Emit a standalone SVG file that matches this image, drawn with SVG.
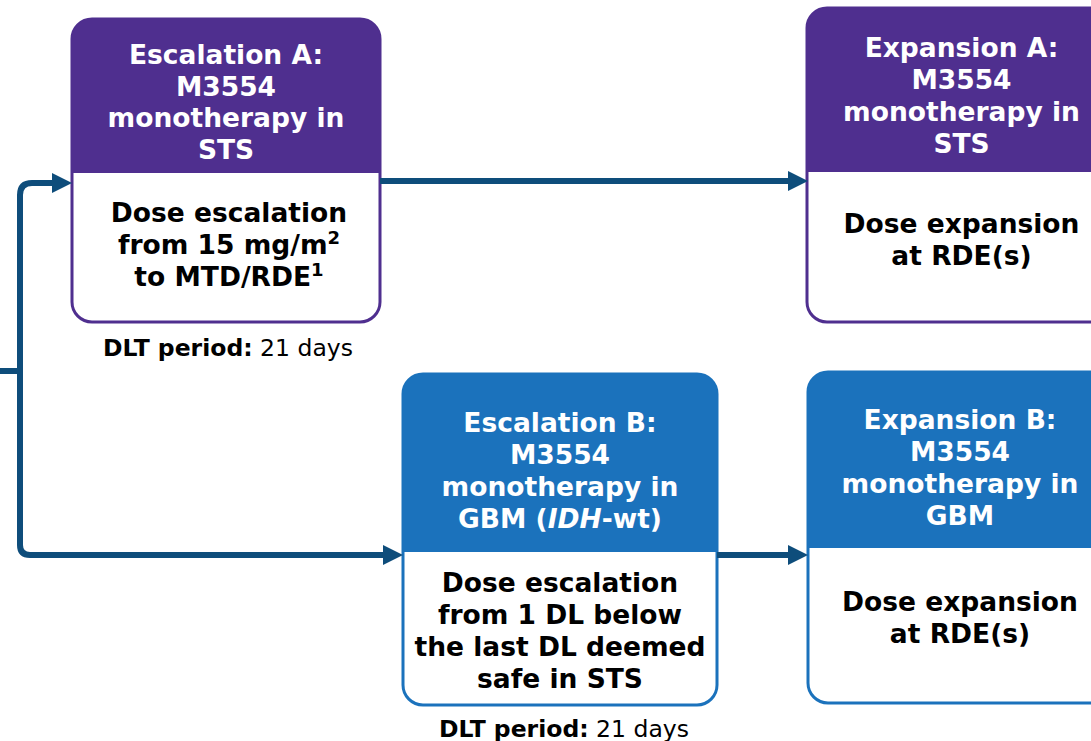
<svg xmlns="http://www.w3.org/2000/svg" width="1091" height="741" viewBox="0 0 1091 741">
<style>
  .hd { font-family: "DejaVu Sans", Verdana, sans-serif; font-weight: bold; font-size: 26.5px; fill: #ffffff; text-anchor: middle; }
  .bd { font-family: "DejaVu Sans", Verdana, sans-serif; font-weight: bold; font-size: 26.5px; fill: #000000; text-anchor: middle; }
  .dlt { font-family: "DejaVu Sans", Verdana, sans-serif; font-size: 23.5px; fill: #000000; text-anchor: middle; }
  .sup { font-size: 18px; }
  .pa { fill: #4F2F8F; }
  .pb { fill: #1B72BC; }
  .oa { fill: #ffffff; stroke: #4F2F8F; stroke-width: 3; }
  .ob { fill: #ffffff; stroke: #1B72BC; stroke-width: 3; }
  .con { fill: none; stroke: #0E4D7B; stroke-width: 6; }
</style>
<defs>
  <marker id="arr" markerUnits="userSpaceOnUse" markerWidth="20" markerHeight="20" refX="0" refY="10" orient="auto">
    <path d="M0,0 L20,10 L0,20 Z" fill="#0E4D7B"/>
  </marker>
</defs>

<g id="escalation-a">
  <rect class="oa" x="72" y="19" width="308" height="303" rx="20"/>
  <path class="pa" d="M72,173 V39 A20,20 0 0 1 92,19 H360 A20,20 0 0 1 380,39 V173 Z"/>
  <text class="hd" x="226" y="63.5">Escalation A:</text>
  <text class="hd" x="226" y="95.5">M3554</text>
  <text class="hd" x="226" y="127">monotherapy in</text>
  <text class="hd" x="226" y="158.5">STS</text>
  <text class="bd" x="229" y="221.5">Dose escalation</text>
  <text class="bd" x="229" y="253.5">from 15 mg/m<tspan class="sup" dy="-10">2</tspan></text>
  <text class="bd" x="229" y="285.5">to MTD/RDE<tspan class="sup" dy="-10">1</tspan></text>
  <text class="dlt" x="228" y="356"><tspan font-weight="bold">DLT period:</tspan> 21 days</text>
</g>

<g id="expansion-a">
  <rect class="oa" x="807" y="8" width="309" height="314" rx="20"/>
  <path class="pa" d="M807,172 V28 A20,20 0 0 1 827,8 H1096 A20,20 0 0 1 1116,28 V172 Z"/>
  <text class="hd" x="961.5" y="56.5">Expansion A:</text>
  <text class="hd" x="961.5" y="88.5">M3554</text>
  <text class="hd" x="961.5" y="120.5">monotherapy in</text>
  <text class="hd" x="961.5" y="152.5">STS</text>
  <text class="bd" x="961.5" y="232.5">Dose expansion</text>
  <text class="bd" x="961.5" y="264.5">at RDE(s)</text>
</g>

<g id="escalation-b">
  <rect class="ob" x="403" y="374" width="314" height="331" rx="20"/>
  <path class="pb" d="M403,552 V394 A20,20 0 0 1 423,374 H697 A20,20 0 0 1 717,394 V552 Z"/>
  <text class="hd" x="560" y="431.5">Escalation B:</text>
  <text class="hd" x="560" y="463.5">M3554</text>
  <text class="hd" x="560" y="495.5">monotherapy in</text>
  <text class="hd" x="560" y="527.5">GBM (<tspan font-style="italic">IDH</tspan>-wt)</text>
  <text class="bd" x="560" y="591.5">Dose escalation</text>
  <text class="bd" x="560" y="623.5">from 1 DL below</text>
  <text class="bd" x="560" y="655.5">the last DL deemed</text>
  <text class="bd" x="560" y="687.5">safe in STS</text>
  <text class="dlt" x="564" y="737"><tspan font-weight="bold">DLT period:</tspan> 21 days</text>
</g>

<g id="expansion-b">
  <rect class="ob" x="808" y="372" width="305" height="331" rx="20"/>
  <path class="pb" d="M808,548 V392 A20,20 0 0 1 828,372 H1093 A20,20 0 0 1 1113,392 V548 Z"/>
  <text class="hd" x="960" y="428.5">Expansion B:</text>
  <text class="hd" x="960" y="460.5">M3554</text>
  <text class="hd" x="960" y="492.5">monotherapy in</text>
  <text class="hd" x="960" y="524.5">GBM</text>
  <text class="bd" x="960" y="610.5">Dose expansion</text>
  <text class="bd" x="960" y="642.5">at RDE(s)</text>
</g>

<g id="connectors">
  <path class="con" d="M0,371 H20"/>
  <path class="con" d="M20,371 V195 Q20,183 32,183 H52" marker-end="url(#arr)"/>
  <path class="con" d="M20,371 V545 Q20,555 30,555 H383" marker-end="url(#arr)"/>
  <path class="con" d="M380,181 H788" marker-end="url(#arr)"/>
  <path class="con" d="M717,555 H788" marker-end="url(#arr)"/>
</g>
</svg>
